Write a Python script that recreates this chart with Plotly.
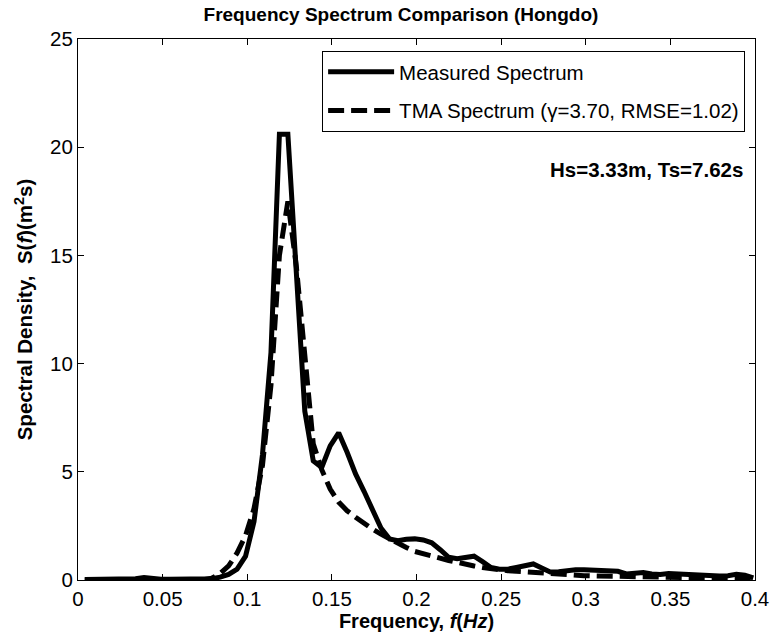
import plotly.graph_objects as go

freq = [0.004, 0.009, 0.014, 0.019, 0.024, 0.029, 0.034, 0.039, 0.044, 0.049,
        0.054, 0.059, 0.064, 0.069, 0.074, 0.079, 0.084, 0.089, 0.094, 0.099,
        0.104, 0.109, 0.114, 0.119, 0.124, 0.129, 0.134, 0.139, 0.144, 0.149,
        0.154, 0.159, 0.164, 0.169, 0.174, 0.179, 0.184, 0.189, 0.194, 0.199,
        0.204, 0.209, 0.214, 0.219, 0.224, 0.229, 0.234, 0.239, 0.244, 0.249,
        0.254, 0.259, 0.264, 0.269, 0.274, 0.279, 0.284, 0.289, 0.294, 0.299,
        0.304, 0.309, 0.314, 0.319, 0.324, 0.329, 0.334, 0.339, 0.344, 0.349,
        0.354, 0.359, 0.364, 0.369, 0.374, 0.379, 0.384, 0.389, 0.394, 0.399]

measured = [0.02, 0.02, 0.02, 0.02, 0.03, 0.03, 0.06, 0.12, 0.05, 0.03,
            0.03, 0.03, 0.03, 0.03, 0.04, 0.06, 0.13, 0.26, 0.50, 1.10,
            2.70, 5.80, 10.5, 20.6, 20.6, 14.2, 7.80, 5.50, 5.20, 6.20,
            6.80, 5.90, 4.90, 4.10, 3.30, 2.40, 1.90, 1.82, 1.88, 1.90,
            1.85, 1.72, 1.40, 1.05, 0.98, 1.05, 1.10, 0.85, 0.58, 0.50,
            0.50, 0.58, 0.68, 0.74, 0.55, 0.37, 0.38, 0.43, 0.47, 0.47,
            0.46, 0.46, 0.45, 0.40, 0.28, 0.30, 0.35, 0.28, 0.25, 0.30,
            0.28, 0.24, 0.20, 0.19, 0.19, 0.19, 0.20, 0.26, 0.22, 0.10]

tma = [0.0, 0.0, 0.0, 0.0, 0.0, 0.0, 0.0, 0.0, 0.0, 0.0,
       0.0, 0.0, 0.0, 0.0, 0.01, 0.08, 0.30, 0.65, 1.25, 2.05,
       3.30, 5.30, 9.00, 15.0, 17.5, 14.5, 10.5, 6.30, 5.10, 4.20,
       3.60, 3.20, 2.90, 2.60, 2.35, 2.12, 1.90, 1.70, 1.50, 1.32,
       1.20, 1.10, 1.00, 0.90, 0.82, 0.72, 0.65, 0.58, 0.52, 0.47,
       0.43, 0.40, 0.37, 0.34, 0.31, 0.28, 0.26, 0.24, 0.22, 0.20,
       0.19, 0.18, 0.17, 0.16, 0.15, 0.14, 0.13, 0.12, 0.12, 0.11,
       0.10, 0.10, 0.09, 0.09, 0.08, 0.08, 0.07, 0.07, 0.07, 0.06]

x_ticks = [0, 0.05, 0.1, 0.15, 0.2, 0.25, 0.3, 0.35, 0.4]
x_tick_labels = ["0", "0.05", "0.1", "0.15", "0.2", "0.25", "0.3", "0.35", "0.4"]
y_ticks = [0, 5, 10, 15, 20, 25]

FONT = "Liberation Sans, Arial, Helvetica, sans-serif"
FS = 20.5

fig = go.Figure()
fig.add_trace(go.Scatter(x=freq, y=measured, mode="lines",
                         name="Measured Spectrum", legendgroup="a",
                         line=dict(color="black", width=5)))
fig.add_trace(go.Scatter(x=freq, y=tma, mode="lines",
                         name="TMA Spectrum (\u03b3=3.70, RMSE=1.02)", legendgroup="b",
                         line=dict(color="black", width=5, dash="16px,7px")))

axis_common = dict(showline=True, linecolor="black", linewidth=1, mirror="ticks",
                   ticks="inside", ticklen=6, tickcolor="black", showgrid=False,
                   zeroline=False, tickfont=dict(family=FONT, size=FS, color="black"))

fig.update_xaxes(range=[0, 0.4], tickvals=x_ticks, ticktext=x_tick_labels,
                 title=dict(text="<b>Frequency, <i>f</i>(<i>Hz</i>)</b>",
                            font=dict(family=FONT, size=20, color="black"), standoff=2),
                 **axis_common)
fig.update_yaxes(range=[0, 25], tickvals=y_ticks,
                 title=dict(text="<b>Spectral Density,  S(<i>f</i>)(m<sup>2</sup>s)</b>",
                            font=dict(family=FONT, size=FS, color="black"), standoff=11),
                 **axis_common)

fig.add_annotation(text="<b>Hs=3.33m, Ts=7.62s</b>", xref="paper", yref="paper",
                   x=0.985, y=0.758, xanchor="right", yanchor="middle", showarrow=False,
                   font=dict(family=FONT, size=FS, color="black"))

fig.update_layout(
    width=781, height=643,
    margin=dict(l=78, r=18, t=39, b=63),
    paper_bgcolor="white", plot_bgcolor="white",
    title=dict(text="<b>Frequency Spectrum Comparison (Hongdo)</b>",
               x=0.5134, xanchor="center", y=0.977, yanchor="middle",
               font=dict(family=FONT, size=19, color="black")),
    legend=dict(x=0.9854, y=0.9778, xanchor="right", yanchor="top",
                bordercolor="black", borderwidth=1, bgcolor="white",
                font=dict(family=FONT, size=FS, color="black"),
                itemwidth=66, tracegroupgap=9),
    showlegend=True,
)

fig.write_html("out.html")
